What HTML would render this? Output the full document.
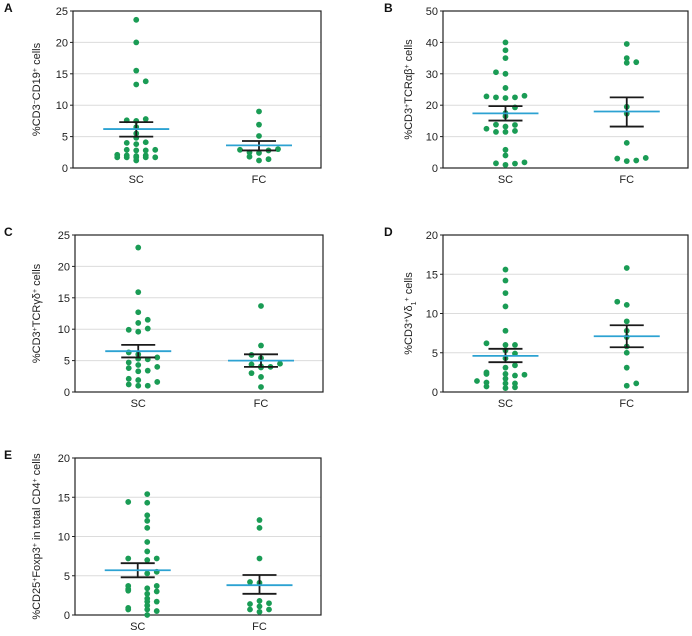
<!DOCTYPE html>
<html><head><meta charset="utf-8"><style>
html,body{margin:0;padding:0;background:#fff;}
svg{display:block;font-family:"Liberation Sans Narrow","Liberation Sans",sans-serif;}
</style></head><body>
<svg id="fig" width="692" height="636" viewBox="0 0 692 636"></svg>
<script>
// ---- data (values, beeswarm column index) ----
const categories = ["SC","FC"];
const aSC = [[23.6,0],[20,0],[15.5,0],[13.3,0],[13.8,1],[7.6,-1],[7.5,0],[7.8,1],[6.5,0],[5.5,0],[4.8,0],[4,-1],[3.8,0],[4.1,1],[2.9,-1],[2.8,0],[2.8,1],[2.9,2],[2.1,-2],[2,-1],[1.9,0],[2,1],[1.7,-2],[1.7,-1],[1.7,0],[1.7,1],[1.7,2],[1.2,0]];
const aFC = [[9,0],[6.9,0],[5.1,0],[2.9,-2],[2.5,-1],[2.8,1],[3,2],[2.4,0],[1.8,-1],[1.2,0],[1.4,1]];
const bSC = [[40,0],[37.5,0],[35,0],[30.5,-1],[30,0],[25.5,0],[22.8,-2],[22.5,-1],[22.3,0],[22.5,1],[23,2],[19.3,1],[17.5,0],[16.5,0],[12.5,-2],[13.8,-1],[13.2,0],[13.7,1],[11.5,-1],[11.5,0],[11.8,1],[5.8,0],[4,0],[1.5,-1],[1,0],[1.4,1],[1.8,2]];
const bFC = [[39.5,0],[35,0],[33.5,0],[33.7,1],[19.5,0],[17.3,0],[8,0],[3,-1],[2.2,0],[2.4,1],[3.2,2]];
const cSC = [[23,0],[15.9,0],[12.7,0],[11,0],[11.5,1],[9.9,-1],[9.6,0],[10.1,1],[6.3,-1],[6,0],[5.5,2],[5.3,0],[5.2,1],[4.7,-1],[4.3,0],[4,2],[3.8,-1],[3.3,0],[3.4,1],[2.1,-1],[1.9,0],[1.6,2],[1.2,-1],[1,0],[1,1]];
const cFC = [[13.7,0],[7.4,0],[5.9,-1],[5.4,0],[4.4,-1],[4.1,0],[3.9,0],[4,1],[4.5,2],[3,-1],[2.4,0],[0.8,0]];
const dSC = [[15.6,0],[14.2,0],[12.6,0],[10.9,0],[7.8,0],[6.2,-2],[6,0],[6,1],[5.3,0],[4.9,1],[4.3,0],[3.4,1],[3.1,0],[2.5,-2],[2.3,-2],[2.3,0],[2.1,1],[2.2,2],[1.7,0],[1.4,-3],[1.2,-2],[1.1,0],[1.1,1],[0.7,-2],[0.6,1],[0.5,0]];
const dFC = [[15.8,0],[11.5,-1],[11.1,0],[9,0],[7.8,0],[7,0],[5.8,0],[5,0],[3.1,0],[0.8,0],[1.1,1]];
const eSC = [[15.4,1],[14.4,-1],[14.3,1],[12.7,1],[12,1],[11.1,1],[9.3,1],[8.1,1],[7.2,-1],[7,1],[7.2,2],[5.5,2],[5.3,1],[3.7,-1],[3.7,2],[3.3,-1],[3.1,-1],[3.4,1],[3,2],[2.7,1],[2.1,1],[1.7,1],[1.7,2],[0.9,-1],[0.7,-1],[1.2,1],[0.7,1],[0.5,2],[0,1]];
const eFC = [[12.1,0],[11.1,0],[7.2,0],[4.2,-1],[4.1,0],[1.8,0],[1.4,-1],[1.5,1],[1.1,0],[0.7,-1],[0.4,0],[0.7,1]];
// mean, sem-low, sem-high
const aStats = [[6.2,5.0,7.3],[3.6,2.8,4.3]];
const bStats = [[17.4,15.1,19.7],[18,13.2,22.5]];
const cStats = [[6.5,5.5,7.5],[5.0,4.0,6.0]];
const dStats = [[4.6,3.8,5.5],[7.1,5.7,8.5]];
const eStats = [[5.7,4.8,6.6],[3.8,2.7,5.1]];
const aTicks = [0,5,10,15,20,25];
const bTicks = [0,10,20,30,40,50];
const cTicks = [0,5,10,15,20,25];
const dTicks = [0,5,10,15,20];
const eTicks = [0,5,10,15,20];

const NS="http://www.w3.org/2000/svg";
const svg=document.getElementById('fig');
function mk(tag,attrs,parent,text){const e=document.createElementNS(NS,tag);for(const k in attrs)e.setAttribute(k,attrs[k]);if(text!==undefined)e.textContent=text;parent.appendChild(e);return e;}

const panels=[
 {id:'a',letter:'A',L:73,R:321,T:11,B:168,ticks:aTicks,groups:[aSC,aFC],stats:aStats,title:'%CD3<tspan baseline-shift="super" font-size="7">−</tspan>CD19<tspan baseline-shift="super" font-size="7">+</tspan> cells',lx:4,tx:40},
 {id:'b',letter:'B',L:443,R:688,T:11,B:168,ticks:bTicks,groups:[bSC,bFC],stats:bStats,title:'%CD3<tspan baseline-shift="super" font-size="7">+</tspan>TCRαβ<tspan baseline-shift="super" font-size="7">+</tspan> cells',lx:384,tx:412},
 {id:'c',letter:'C',L:75,R:323,T:235,B:392,ticks:cTicks,groups:[cSC,cFC],stats:cStats,title:'%CD3<tspan baseline-shift="super" font-size="7">+</tspan>TCRγδ<tspan baseline-shift="super" font-size="7">+</tspan> cells',lx:4,tx:40},
 {id:'d',letter:'D',L:443,R:688,T:235,B:392,ticks:dTicks,groups:[dSC,dFC],stats:dStats,title:'%CD3<tspan baseline-shift="super" font-size="7">+</tspan>Vδ<tspan baseline-shift="sub" font-size="7">1</tspan><tspan baseline-shift="super" font-size="7">+</tspan> cells',lx:384,tx:412},
 {id:'e',letter:'E',L:75,R:321,T:458,B:615,ticks:eTicks,groups:[eSC,eFC],stats:eStats,title:'%CD25<tspan baseline-shift="super" font-size="7">+</tspan>Foxp3<tspan baseline-shift="super" font-size="7">+</tspan> in total CD4<tspan baseline-shift="super" font-size="7">+</tspan> cells',lx:4,tx:40}
];

panels.forEach(p=>{
  const g=mk('g',{},svg);
  
  
  const max=p.ticks[p.ticks.length-1];
  const y=v=>p.B-(v/max)*(p.B-p.T);
  const W=p.R-p.L;
  const xc=i=>p.L+W*(i===0?0.255:0.75);
  const lt=mk('text',{x:p.lx,y:p.T+1,'font-size':12,'font-weight':'bold',fill:'#111'},g,p.letter);
  
  
  p.ticks.forEach(t=>{
    if(t>0&&t<max){const gl=mk('line',{x1:p.L,x2:p.R,y1:y(t),y2:y(t),stroke:'#dcdcdc','stroke-width':1},g);
      }
    const tk=mk('line',{x1:p.L-3,x2:p.L,y1:y(t),y2:y(t),stroke:'#222','stroke-width':1},g);
    
    const tl=mk('text',{x:p.L-5,y:y(t)+4,'font-size':11,'text-anchor':'end',fill:'#222'},g,String(t));
    
  });
  const fr=mk('rect',{x:p.L,y:p.T,width:W,height:p.B-p.T,fill:'none',stroke:'#222','stroke-width':1.2},g);
  
  const cy=(p.T+p.B)/2;
  const yt=mk('text',{x:p.tx,y:cy,'font-size':11,'text-anchor':'middle',fill:'#222',transform:`rotate(-90 ${p.tx} ${cy})`},g);
  yt.innerHTML=p.title;
  
  p.groups.forEach((pts,i)=>{
    const cx=xc(i);
    const xl=mk('text',{x:cx,y:p.B+15,'font-size':11,'text-anchor':'middle',fill:'#222'},g,categories[i]);
    
    pts.forEach(d=>{
      const c=mk('circle',{cx:cx+d[1]*9.5,cy:y(d[0]),r:2.9,fill:'#1a9c55'},g);
      
    });
    const s=p.stats[i];
    const eb=mk('path',{d:`M${cx-17},${y(s[1])}H${cx+17}M${cx-17},${y(s[2])}H${cx+17}M${cx},${y(s[1])}V${y(s[2])}`,stroke:'#1a1a1a','stroke-width':1.8,fill:'none'},g);
    
    const ml=mk('line',{x1:cx-33,x2:cx+33,y1:y(s[0]),y2:y(s[0]),stroke:'#2ca2d2','stroke-width':1.8},g);
    
  });
});
</script>
</body></html>
